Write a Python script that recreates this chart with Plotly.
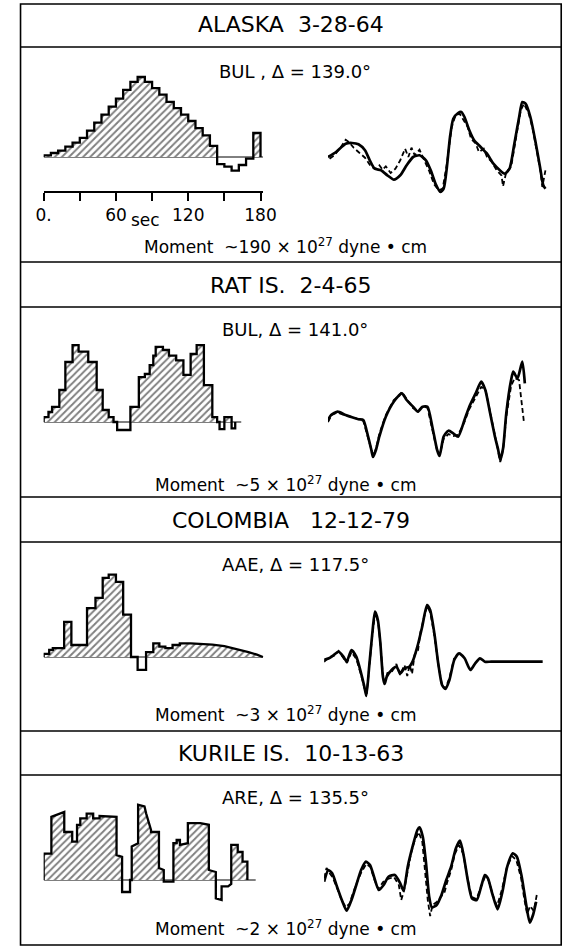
import plotly.graph_objects as go

W, H = 580, 950

# ---------------- text content ----------------
event_titles = ["ALASKA  3-28-64", "RAT IS.  2-4-65", "COLOMBIA   12-12-79", "KURILE IS.  10-13-63"]
station_labels = ["BUL , Δ = 139.0°", "BUL, Δ = 141.0°", "AAE, Δ = 117.5°", "ARE, Δ = 135.5°"]
moment_values = ["190", "5", "3", "2"]
time_ticks = [0, 60, 120, 180]
time_tick_labels = ["0.", "60", "120", "180"]
time_minor_step = 30

# ---------------- source time functions (time s, relative amplitude) ----------------
alaska_stf_dt = 6
alaska_stf_a = [0.02, 0.05, 0.08, 0.13, 0.18, 0.24, 0.33, 0.43, 0.53, 0.63, 0.73, 0.84, 0.94, 1.00,
                0.94, 0.86, 0.78, 0.69, 0.61, 0.53, 0.45, 0.36, 0.27, 0.14, -0.09, -0.12, -0.17,
                -0.10, -0.02, 0.30]

rat_stf_t = [0, 4, 7, 13, 18, 24, 29, 37, 44, 49, 54, 58, 61, 72, 79, 84, 88, 91, 93, 99, 104, 110,
             116, 122, 127, 133, 140, 144, 146, 150, 156]
rat_stf_a = [0.06, 0.125, 0.19, 0.40, 0.75, 0.96, 0.88, 0.75, 0.40, 0.15, 0.06, 0, -0.10, 0.19, 0.56,
             0.60, 0.71, 0.83, 0.94, 0.90, 0.83, 0.77, 0.59, 0.85, 0.96, 0.46, 0.06, 0, -0.09, 0.06, -0.08]
rat_stf_end = 159

col_stf_t = [0, 4.6, 7.6, 17, 23, 36, 43, 49, 54, 60, 66, 72.5, 78, 85, 91, 96, 101, 107, 113]
col_stf_a = [0.04, 0.09, 0.11, 0.44, 0.15, 0.61, 0.74, 0.99, 1.03, 0.94, 0.53, 0, -0.16, 0.06, 0.17,
             0.13, 0.11, 0.15, 0.17]
col_tail_t = [122, 130, 140, 150, 160, 170, 177, 182]
col_tail_a = [0.17, 0.165, 0.155, 0.135, 0.10, 0.06, 0.03, 0.0]

kur_stf_t = [0, 0, 6.4, 6.4, 17.1, 17.1, 23.7, 23.7, 27.7, 27.7, 30.4, 30.4, 35.7, 35.7, 41.1, 41.1,
             46.4, 46.4, 60.5, 60.5, 65.1, 65.1, 71.7, 71.7, 73.1, 73.1, 78.4, 78.4, 83.7, 85.1, 89.1,
             89.1, 95.7, 95.7, 99.7, 99.7, 107.7, 107.7, 110.4, 110.4, 113.1, 113.1, 119.7, 119.7, 130,
             137.1, 137.1, 142.9, 142.9, 147.7, 147.7, 153.1, 155.7, 155.7, 161.1, 161.1, 165.1, 165.1,
             169.1, 169.1]
kur_stf_a = [0, 0.33, 0.33, 0.79, 0.85, 0.60, 0.60, 0.48, 0.48, 0.69, 0.69, 0.77, 0.77, 0.83, 0.83, 0.77,
             0.77, 0.80, 0.79, 0.31, 0.29, -0.15, -0.15, 0, 0, 0.42, 0.46, 0.94, 0.92, 0.83, 0.625,
             0.60, 0.60, 0.15, 0.125, -0.02, -0.02, 0.46, 0.46, 0.50, 0.50, 0.44, 0.46, 0.71, 0.71,
             0.69, 0.125, 0.10, -0.23, -0.25, -0.08, -0.08, -0.05, 0.44, 0.44, 0.35, 0.35, 0.23,
             0.23, 0]
stf_baseline_end = [182, 164, 182, 176]

# ---------------- waveforms (time s, amplitude) ----------------
ala_syn_t = [0, 6.7, 14.7, 20, 25.3, 30.7, 34.7, 38.7, 44, 49.3, 54.7, 60, 65.3, 70.7, 76, 81.3, 85.3,
             89.3, 93.3, 96, 98.7, 101.3, 104, 108, 110.7, 113.3, 117.3, 121.3, 126.7, 132, 137.3,
             142.7, 146.7, 150.7, 154.7, 158.7, 161.3, 164, 168, 172, 176, 178.7, 180.5]
ala_syn_a = [0, 0.5, 1.33, 1.4, 1.27, 0.67, -0.33, -1.17, -1.33, -1.83, -2.27, -1.83, -0.83, 0, 0.17,
             -0.33, -1.33, -2.67, -3.5, -3.17, -1, 2, 3.83, 4.4, 4.5, 4, 2.67, 1.67, 1, 0.33, -0.67,
             -1.33, -1.67, -1.17, 1.33, 4, 5.5, 5.33, 4, 1.67, -1, -2.83, -3.17]
ala_obs_t = [1.3, 5.3, 10.7, 14.7, 17.3, 21.3, 25.3, 30.7, 36, 40, 42.7, 45.3, 48, 52, 56, 60, 64, 66.7,
             69.3, 72, 76, 80, 84, 88, 92, 95.2, 98.7, 102.7, 105.9, 109.3, 113.3, 116, 118.7, 122.7,
             125.3, 129.3, 132, 136, 140, 144, 145.3, 148, 152, 156, 160, 162.7, 166.7, 169.9, 173.3,
             176.5, 177.9, 180.5]
ala_obs_a = [-0.17, 0.17, 1, 1.73, 1.5, 0.93, 0.5, -0.07, -1, -1.17, -0.83, -1.27, -0.93, -1.6, -1.17,
             -0.33, 0.83, 0, 0.93, 0.17, 0.73, -0.33, -1.4, -2.73, -3.33, -3.17, -0.67, 3, 4.17, 4.33,
             3.5, 3, 1.83, 1.33, 0.5, 0.83, 0, -0.5, -1.33, -1.83, -2.93, -1.5, -1, 2, 4.67, 5.33,
             4.33, 2.83, 0.67, -1.5, -3, -1.33]

rat_syn_t = [0, 2.6, 8, 14.6, 20, 25.3, 29.3, 33.3, 36, 37.4, 39.8, 42.6, 48, 54.6, 61.3, 65.3, 70.6,
             74.6, 78.6, 82.6, 86.6, 90.6, 92.6, 96, 100, 104, 108, 113.3, 117.3, 122.6, 127.2, 130.6,
             134.6, 138.6, 141.3, 143, 145.4, 148, 152, 153.8, 157.3, 161.3, 163.4]
rat_syn_a = [0, 0.5, 0.83, 0.5, 0.27, 0.07, 0, -1.67, -3, -3.7, -3, -1.67, 0.33, 1.83, 2.67, 2, 1.33,
             0.83, 1.33, 1.33, -0.67, -3, -3.6, -1.67, -1.07, -1.33, -1.67, 0, 1.33, 2.67, 3.83, 3,
             0.67, -1.67, -3, -4, -2.8, 0.67, 4, 4.83, 4.17, 5.83, 3.67]
rat_obs_t = [0, 3, 8, 14.6, 20, 25.3, 29.3, 33.3, 36, 37.6, 40, 42.6, 48, 54.6, 58, 61.3, 65.3, 70.6,
             74.6, 78.6, 82.6, 86.6, 90.6, 92.6, 96, 100, 104, 108, 113.3, 117.3, 122.6, 127.2, 130.6,
             134.6, 138.6, 141.3, 143, 145.4, 148, 152, 155, 158.6, 162.6]
rat_obs_a = [-0.2, 0.5, 0.75, 0.45, 0.3, 0.1, -0.1, -1.8, -3.1, -3.6, -2.8, -1.4, 0.5, 2.0, 2.3, 2.8,
             2.1, 1.2, 0.9, 1.4, 1.2, -0.8, -3.1, -3.5, -1.9, -1.4, -1.6, -1.5, -0.2, 1.1, 2.3, 3.3,
             3.1, 0.9, -1.5, -3.1, -4.2, -2.9, 0.3, 3.4, 4.2, 4.0, -0.17]

col_syn_t = [0, 4, 8, 12, 16, 18.7, 22.7, 26.7, 30.7, 33.4, 35, 37.4, 40, 42.2, 44.6, 46.7, 48.8, 50.2,
             52, 56, 60, 63.2, 66.7, 70.7, 73.4, 77.4, 81.4, 85.4, 88, 91.5, 94.7, 97.9, 100.6, 104,
             108, 112, 116.6, 121.4, 125.4, 129.4, 133.4, 138.7, 181.4]
col_syn_a = [0, 0.17, 0.5, 0.83, 0.33, -0.17, 1, 0.33, -1.33, -2.67, -3.6, -0.67, 2.67, 4.83, 4, 1.67,
             -1.67, -2.4, -1.67, -1, -0.67, -1.33, -0.83, -0.67, -0.17, 1.33, 3.33, 5.5, 5, 2.67,
             -0.33, -2.5, -2.9, -2, 0, 0.67, 0.17, -1, -0.33, 0.17, -0.17, -0.17, -0.17]
col_obs_t = [0, 4, 8, 12, 16, 19, 22.7, 26.7, 30.7, 33.4, 35.3, 37.6, 40, 42.4, 44.8, 46.9, 49, 50.5,
             52.5, 56, 60, 63, 66.7, 69, 71, 73, 75, 78, 80, 83, 85.6, 88.2, 91.7, 95, 98, 100.8, 104, 108]
col_obs_a = [-0.2, 0.3, 0.4, 0.9, 0.2, -0.3, 0.8, 0.1, -1.5, -2.8, -3.4, -0.5, 2.5, 4.7, 3.8, 1.4,
             -1.9, -2.2, -1.3, -1.2, -0.4, -1.5, -0.5, -1.6, -0.5, -1.4, 0.5, 1.0, 2.8, 4.3, 5.4, 4.7,
             2.3, -0.6, -2.6, -2.8, -1.8, 0.2]

kur_syn_t = [0, 3.5, 6.7, 10.7, 14.7, 18.7, 22.7, 26.7, 30.7, 34.7, 38.1, 41.4, 45.4, 49.4, 53.4, 58.7,
             63.2, 65.9, 69.4, 73.4, 77.4, 79.2, 81.9, 84.6, 87.2, 89.4, 93.4, 97.4, 101.4, 105.4,
             109.4, 112.8, 116, 119.2, 122.7, 126.7, 130.7, 133.4, 136, 139.5, 144, 148, 152, 156.6,
             160, 164, 168, 170.7, 173.4, 176]
kur_syn_a = [-0.17, 1.0, 0.67, -0.67, -2, -3.07, -2, -0.5, 1.0, 1.83, 1.5, 0.33, -1.0, -0.5, 0.33, 0.5,
             -0.33, -1.07, 1.33, 3.33, 5.0, 5.27, 4.33, 1.67, -1.67, -2.73, -2.5, -1.5, 0, 1.33, 3.17,
             3.93, 2.33, 0, -1.83, -2, -0.5, 0.5, 0.17, -1.33, -2.93, -1.17, 1.33, 2.67, 2.33, 0.33,
             -2.67, -4.27, -3.5, -2.17]
kur_obs_t = [0, 2, 5, 7, 10.7, 14.7, 18, 21, 24, 27, 31, 35, 38.5, 41.5, 45, 49, 53, 58, 62, 64, 66.5,
             69, 72, 75, 78.5, 81.5, 84, 86, 88, 90, 93.5, 97, 100, 102, 105.5, 108.5, 112, 115.5, 119,
             122.5, 126.5, 130.5, 133.5, 136.5, 140, 143.5, 147.5, 151.5, 156, 159.5, 163.5, 166,
             168.5, 171, 174, 176.5]
kur_obs_a = [0.2, 1.2, 0.6, 0.3, -0.8, -2.1, -2.7, -2.4, -1.3, -0.3, 0.8, 1.6, 1.3, 0.1, -0.9, -0.2, 0.1,
             0.3, -0.5, -2.0, -1.0, 0.8, 2.6, 3.9, 4.8, 3.8, 0.8, -2.0, -3.6, -2.5, -2.2, -1.6, -1.2,
             -0.3, 1.0, 2.6, 3.5, 2.6, 0.2, -1.7, -1.9, -0.6, 0.3, 0, -1.5, -2.6, -1.0, 1.2, 2.4, 2.0,
             0.2, -1.8, -3.4, -2.6, -3.1, -1.5]


# ---------------- build STF outlines ----------------
def steps_to_outline(t_starts, vals, t_end):
    xs, ys = [t_starts[0]], [0.0]
    for i, v in enumerate(vals):
        t0 = t_starts[i]
        t1 = t_starts[i + 1] if i + 1 < len(vals) else t_end
        xs += [t0, t1]
        ys += [v, v]
    xs.append(t_end)
    ys.append(0.0)
    return xs, ys


ala_t_starts = [i * alaska_stf_dt for i in range(len(alaska_stf_a))]
ala_x, ala_y = steps_to_outline(ala_t_starts, alaska_stf_a, len(alaska_stf_a) * alaska_stf_dt)
rat_x, rat_y = steps_to_outline(rat_stf_t, rat_stf_a, rat_stf_end)
col_x, col_y = steps_to_outline(col_stf_t, col_stf_a, col_tail_t[0])
col_x = col_x[:-1] + col_tail_t
col_y = col_y[:-1] + col_tail_a
kur_x, kur_y = list(kur_stf_t), list(kur_stf_a)

stf_outlines = [(ala_x, ala_y), (rat_x, rat_y), (col_x, col_y), (kur_x, kur_y)]
waveforms = [
    (ala_syn_t, ala_syn_a, ala_obs_t, ala_obs_a),
    (rat_syn_t, rat_syn_a, rat_obs_t, rat_obs_a),
    (col_syn_t, col_syn_a, col_obs_t, col_obs_a),
    (kur_syn_t, kur_syn_a, kur_obs_t, kur_obs_a),
]

# ---------------- layout geometry (pixels) ----------------
BORDER = dict(x0=13, x1=574, y0=4, y1=945)
ROW_LINES = [47, 262, 307, 497, 542, 731, 775]
TITLE_Y = [25, 285, 520, 753]
STATION_Y = [72, 330, 564, 797]
MOMENT_Y = [246, 484, 714, 928]
PANELS = [
    dict(stf_base=157, stf_top=55, stf_bot=191, stf_x1=265, wf_base=157, wf_x0=332, wf_top=88, wf_bot=210),
    dict(stf_base=422, stf_top=320, stf_bot=447, stf_x1=277, wf_base=420, wf_x0=332, wf_top=345, wf_bot=472),
    dict(stf_base=657, stf_top=555, stf_bot=685, stf_x1=277, wf_base=660, wf_x0=328, wf_top=590, wf_bot=712),
    dict(stf_base=880, stf_top=785, stf_bot=912, stf_x1=277, wf_base=880, wf_x0=328, wf_top=812, wf_bot=938),
]
STF_X0 = 37
PX_PER_S = 1.25
STF_PX_PER_UNIT = 80
WF_PX_PER_UNIT = 10
WF_WIDTH = 240
FONT = "DejaVu Sans"

fig = go.Figure()
layout_axes = {}


def set_axes(n, xpx, ypx, xrange, yrange, xvisible=False):
    sfx = "" if n == 1 else str(n)
    xa = dict(domain=[xpx[0] / W, xpx[1] / W], range=xrange, anchor="y" + sfx,
              visible=xvisible, fixedrange=True, showgrid=False, zeroline=False)
    ya = dict(domain=[1 - ypx[1] / H, 1 - ypx[0] / H], range=yrange, anchor="x" + sfx,
              visible=False, fixedrange=True, showgrid=False, zeroline=False)
    layout_axes["xaxis" + sfx] = xa
    layout_axes["yaxis" + sfx] = ya
    return "x" + sfx, "y" + sfx


ax_n = 1
for p_i, P in enumerate(PANELS):
    # --- STF panel
    xr = [0, (P["stf_x1"] - STF_X0) / PX_PER_S]
    yr = [-(P["stf_bot"] - P["stf_base"]) / STF_PX_PER_UNIT, (P["stf_base"] - P["stf_top"]) / STF_PX_PER_UNIT]
    xa, ya = set_axes(ax_n, (STF_X0, P["stf_x1"]), (P["stf_top"], P["stf_bot"]), xr, yr, xvisible=(p_i == 0))
    ax_n += 1
    sx, sy = stf_outlines[p_i]
    fig.add_trace(go.Scatter(x=[0, stf_baseline_end[p_i]], y=[0, 0], mode="lines", xaxis=xa, yaxis=ya,
                             line=dict(color="black", width=1), showlegend=False, hoverinfo="skip"))
    fig.add_trace(go.Scatter(x=sx, y=[max(v, 0) for v in sy], mode="lines", xaxis=xa, yaxis=ya,
                             line=dict(width=0, color="rgba(0,0,0,0)"), fill="tozeroy",
                             fillcolor="rgba(0,0,0,0)",
                             fillpattern=dict(shape="/", fgcolor="black", bgcolor="white", size=5,
                                              solidity=0.38),
                             showlegend=False, hoverinfo="skip"))
    fig.add_trace(go.Scatter(x=sx, y=sy, mode="lines", xaxis=xa, yaxis=ya,
                             line=dict(color="black", width=2.3), showlegend=False, hoverinfo="skip"))
    # --- waveform panel
    xr = [0, WF_WIDTH / PX_PER_S]
    yr = [-(P["wf_bot"] - P["wf_base"]) / WF_PX_PER_UNIT, (P["wf_base"] - P["wf_top"]) / WF_PX_PER_UNIT]
    xa, ya = set_axes(ax_n, (P["wf_x0"], P["wf_x0"] + WF_WIDTH), (P["wf_top"], P["wf_bot"]), xr, yr)
    ax_n += 1
    st, sa, ot, oa = waveforms[p_i]
    fig.add_trace(go.Scatter(x=ot, y=oa, mode="lines", xaxis=xa, yaxis=ya,
                             line=dict(color="black", width=1.8, dash="5px,3px"),
                             showlegend=False, hoverinfo="skip"))
    fig.add_trace(go.Scatter(x=st, y=sa, mode="lines", xaxis=xa, yaxis=ya,
                             line=dict(color="black", width=2.7, shape="spline", smoothing=0.6),
                             showlegend=False, hoverinfo="skip"))

# Alaska time axis
layout_axes["xaxis"].update(visible=True, showline=True, linecolor="black", linewidth=1.5,
                            ticks="outside", ticklen=8, tickwidth=1.5, tickcolor="black",
                            tickvals=time_ticks, ticktext=time_tick_labels,
                            minor=dict(ticks="outside", ticklen=8, tickwidth=1.5, tickcolor="black",
                                       tick0=0, dtick=time_minor_step, showgrid=False),
                            tickfont=dict(family=FONT, size=17, color="black"))

shapes = [dict(type="rect", xref="paper", yref="paper",
               x0=BORDER["x0"] / W, x1=BORDER["x1"] / W, y0=1 - BORDER["y1"] / H, y1=1 - BORDER["y0"] / H,
               line=dict(color="black", width=1.6))]
for yl in ROW_LINES:
    shapes.append(dict(type="line", xref="paper", yref="paper", x0=BORDER["x0"] / W, x1=BORDER["x1"] / W,
                       y0=1 - yl / H, y1=1 - yl / H, line=dict(color="black", width=1.4)))

annotations = []


def add_text(text, xpx, ypx, size):
    annotations.append(dict(text=text, x=xpx / W, y=1 - ypx / H, xref="paper", yref="paper",
                            xanchor="center", yanchor="middle", showarrow=False,
                            font=dict(family=FONT, size=size, color="black")))


for i in range(4):
    add_text(event_titles[i], 0.5 * (BORDER["x0"] + BORDER["x1"]), TITLE_Y[i], 22)
    add_text(station_labels[i], 298, STATION_Y[i], 18)
    add_text("Moment  ~" + moment_values[i] + " × 10<sup>27</sup> dyne • cm", 288, MOMENT_Y[i], 17)
add_text("sec", 143, 220, 17)

fig.update_layout(width=W, height=H, margin=dict(l=0, r=0, t=0, b=0),
                  paper_bgcolor="white", plot_bgcolor="rgba(0,0,0,0)",
                  showlegend=False, shapes=shapes, annotations=annotations, **layout_axes)

fig.write_html("out.html")
